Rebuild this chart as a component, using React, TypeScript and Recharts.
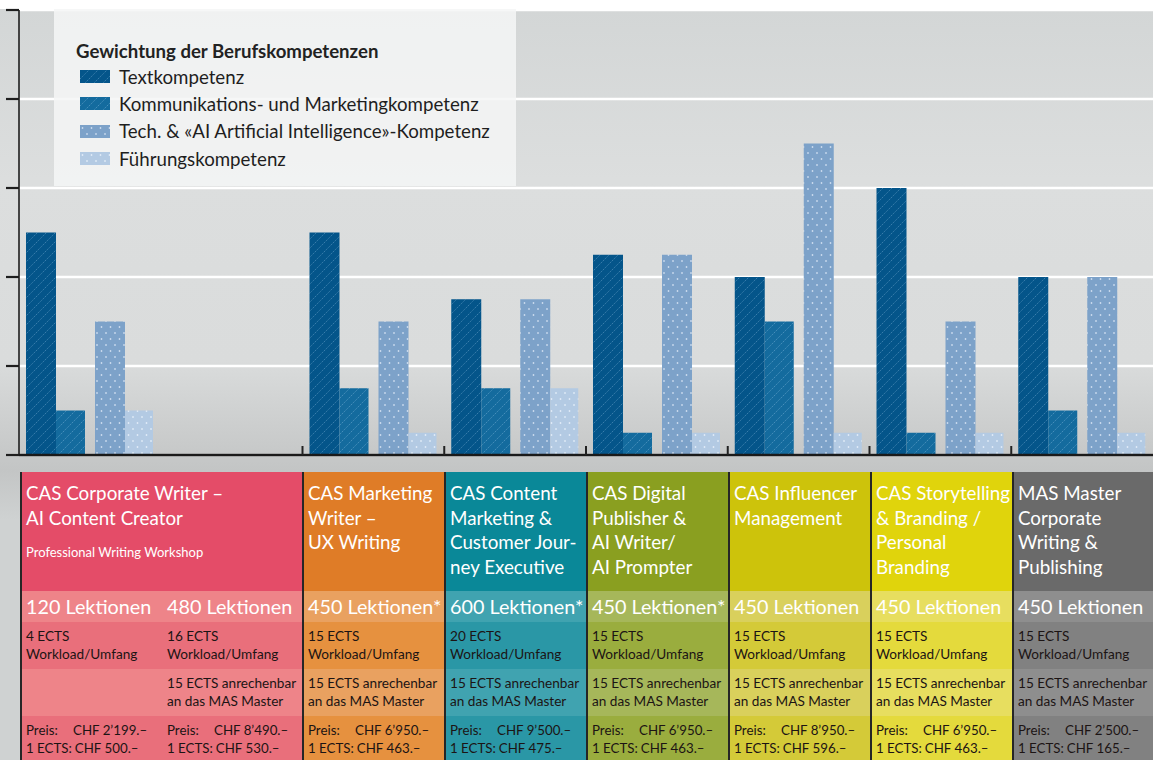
import { Bar, BarChart, CartesianGrid, Legend, XAxis, YAxis } from "recharts";

// chart categories: the first course takes two table columns, its right half has no bars
const programs = [
  "CAS Corporate Writer – AI Content Creator",
  "CAS Corporate Writer (480 Lektionen)",
  "CAS Marketing Writer – UX Writing",
  "CAS Content Marketing & Customer Journey Executive",
  "CAS Digital Publisher & AI Writer/AI Prompter",
  "CAS Influencer Management",
  "CAS Storytelling & Branding / Personal Branding",
  "MAS Master Corporate Writing & Publishing",
];
const textkompetenz = [2.5, null, 2.5, 1.75, 2.25, 2, 3, 2];
const kommunikation = [0.5, null, 0.75, 0.75, 0.25, 1.5, 0.25, 0.5];
const technik = [1.5, null, 1.5, 1.75, 2.25, 3.5, 1.5, 2];
const fuehrung = [0.5, null, 0.25, 0.75, 0.25, 0.25, 0.25, 0.25];
const yTicks = [0, 1, 2, 3, 4, 5];

// table below the chart
const titles = [
  ["CAS Corporate Writer –", "AI Content Creator"],
  ["CAS Marketing", "Writer –", "UX Writing"],
  ["CAS Content", "Marketing &", "Customer Jour-", "ney Executive"],
  ["CAS Digital", "Publisher &", "AI Writer/", "AI Prompter"],
  ["CAS Influencer", "Management"],
  ["CAS Storytelling", "& Branding /", "Personal", "Branding"],
  ["MAS Master", "Corporate", "Writing &", "Publishing"],
];
const lektionen = ["120 Lektionen", "480 Lektionen", "450 Lektionen*", "600 Lektionen*", "450 Lektionen*", "450 Lektionen", "450 Lektionen", "450 Lektionen"];
const ects = [4, 16, 15, 20, 15, 15, 15, 15];
const anrechenbar = [null, 15, 15, 15, 15, 15, 15, 15];
const preis = ["2’199", "8’490", "6’950", "9’500", "6’950", "8’950", "6’950", "2’500"];
const preisProEcts = ["500", "530", "463", "475", "463", "596", "463", "165"];

const FONT = "Lato, 'Open Sans', sans-serif";
const W = 1153;
const CHART_H = 470;
const X_AXIS_H = 15;
const PLOT_LEFT = 19;
const PLOT_BOTTOM = CHART_H - X_AXIS_H;
const BAND = (W - PLOT_LEFT) / programs.length;

const HEADER_COLORS = ["#e44c68", "#df7c27", "#0a8898", "#8a9f20", "#cdc30b", "#e0d40c", "#6a6a6a"];
const LIGHT_COLORS = ["#ee8489", "#e9a160", "#40a3b0", "#a6b75a", "#d9d05c", "#e7de5f", "#8e8e8e"];
const MID_COLORS = ["#e96f7b", "#e6913f", "#2a97a6", "#9aad3e", "#d4ca38", "#e4da3c", "#818181"];
const SUB_COL = [0, 0, 1, 2, 3, 4, 5, 6];
const SUB_W = [141, 141, 142, 142, 142, 142, 142, 141];
const HEAD_W = [282, 142, 142, 142, 142, 142, 141];

const SERIES = [
  { key: "text", name: "Textkompetenz", fill: "url(#pText)" },
  { key: "komm", name: "Kommunikations- und Marketingkompetenz", fill: "url(#pKomm)" },
  { key: "tech", name: "Tech. & «AI Artificial Intelligence»-Kompetenz", fill: "url(#pTech)" },
  { key: "fuehrung", name: "Führungskompetenz", fill: "url(#pFuehr)" },
];

const data = programs.map((name, i) => ({
  name,
  text: textkompetenz[i],
  komm: kommunikation[i],
  tech: technik[i],
  fuehrung: fuehrung[i],
}));

function BoundaryTick(props: any) {
  const index = props.index ?? props.payload?.index;
  if (index === 0 || index === 1) return null;
  const x = props.x - BAND / 2;
  return <line x1={x} x2={x} y1={PLOT_BOTTOM - 9} y2={PLOT_BOTTOM} stroke="#222" strokeWidth={2} />;
}

function LegendBox() {
  return (
    <div
      style={{
        width: 462,
        height: 177,
        background: "rgba(245,246,246,0.86)",
        fontFamily: FONT,
        color: "#222",
        boxSizing: "border-box",
        padding: "30px 0 0 22px",
      }}
    >
      <div style={{ fontWeight: 700, fontSize: 18.6, lineHeight: "24px", marginBottom: 0 }}>
        Gewichtung der Berufskompetenzen
      </div>
      {SERIES.map((s) => (
        <div key={s.key} style={{ display: "flex", alignItems: "center", height: 27.3 }}>
          <svg width={30} height={13} style={{ marginLeft: 4, marginRight: 9 }}>
            <rect width={30} height={13} fill={s.fill} />
          </svg>
          <span style={{ fontSize: 18.7, color: "#1e1e1e" }}>{s.name}</span>
        </div>
      ))}
    </div>
  );
}

function Patterns() {
  const stripes = "M-1,1 l2,-2 M0,9 l9,-9 M8,10 l2,-2";
  return (
    <defs>
      <pattern id="pText" width={9} height={9} patternUnits="userSpaceOnUse">
        <rect width={9} height={9} fill="#04558a" />
        <path d={stripes} stroke="rgba(150,195,230,0.45)" strokeWidth={0.8} strokeDasharray="1.5 1" />
      </pattern>
      <pattern id="pKomm" width={9} height={9} patternUnits="userSpaceOnUse">
        <rect width={9} height={9} fill="#146b9e" />
        <path d={stripes} stroke="rgba(160,205,235,0.45)" strokeWidth={0.8} strokeDasharray="1.5 1" />
      </pattern>
      <pattern id="pTech" width={9} height={12} patternUnits="userSpaceOnUse">
        <rect width={9} height={12} fill="#7da2c9" />
        <path d="M1.5,3 h2 M2.5,2 v2 M6,9 h2 M7,8 v2" stroke="rgba(225,235,248,0.75)" strokeWidth={0.8} />
      </pattern>
      <pattern id="pFuehr" width={9} height={12} patternUnits="userSpaceOnUse">
        <rect width={9} height={12} fill="#b3cae3" />
        <path d="M1.5,3 h2 M2.5,2 v2 M6,9 h2 M7,8 v2" stroke="rgba(235,242,252,0.8)" strokeWidth={0.8} />
      </pattern>
    </defs>
  );
}

const cellText = { fontSize: 13.6, lineHeight: "17.5px", color: "#1c1414" };
const priceLabel = { display: "inline-block", minWidth: 47, paddingRight: 3, boxSizing: "border-box" as const };

function Table() {
  const sep = "2px solid #262626";
  const rowCells = (
    height: number,
    colors: string[],
    render: (i: number) => any,
    style: any = cellText,
    padTop = 6
  ) => (
    <div style={{ display: "flex", height }}>
      {SUB_W.map((w, i) => (
        <div
          key={i}
          style={{
            width: w,
            height,
            boxSizing: "border-box",
            background: colors[SUB_COL[i]],
            borderLeft: i === 1 ? "none" : sep,
            paddingLeft: i === 1 ? 6 : 4,
            paddingTop: padTop,
            whiteSpace: "nowrap",
            overflow: "hidden",
            ...style,
          }}
        >
          {render(i)}
        </div>
      ))}
    </div>
  );
  return (
    <div style={{ position: "absolute", left: 20, top: 472, width: 1133, fontFamily: FONT }}>
      <div style={{ display: "flex", height: 119 }}>
        {titles.map((lines, i) => (
          <div
            key={i}
            style={{
              width: HEAD_W[i],
              height: 119,
              boxSizing: "border-box",
              background: HEADER_COLORS[i],
              borderLeft: sep,
              padding: "9px 0 0 4px",
              color: "#fff",
              fontSize: 18.8,
              lineHeight: "24.5px",
              whiteSpace: "nowrap",
              overflow: "hidden",
            }}
          >
            {lines.map((l) => (
              <div key={l}>{l}</div>
            ))}
            {i === 0 && <div style={{ fontSize: 13, lineHeight: "16px", marginTop: 14 }}>Professional Writing Workshop</div>}
          </div>
        ))}
      </div>
      {rowCells(31, LIGHT_COLORS, (i) => lektionen[i], { fontSize: 19.8, lineHeight: "31px", color: "#fff" }, 0)}
      {rowCells(47, MID_COLORS, (i) => (
        <>
          <div>{ects[i]} ECTS</div>
          <div>Workload/Umfang</div>
        </>
      ))}
      {rowCells(47, LIGHT_COLORS, (i) =>
        anrechenbar[i] == null ? null : (
          <>
            <div>{anrechenbar[i]} ECTS anrechenbar</div>
            <div>an das MAS Master</div>
          </>
        )
      )}
      {rowCells(44, MID_COLORS, (i) => (
        <>
          <div>
            <span style={priceLabel}>Preis:</span>CHF {preis[i]}.–
          </div>
          <div>
            <span style={priceLabel}>1 ECTS:</span>CHF {preisProEcts[i]}.–
          </div>
        </>
      ), { ...cellText, fontSize: 13.3 })}
    </div>
  );
}

export default function App() {
  return (
    <div
      style={{
        position: "absolute",
        left: 0,
        top: 0,
        width: W,
        height: 760,
        overflow: "hidden",
        background:
          "linear-gradient(to bottom, #ffffff 0px, #ffffff 9px, #d3d6d6 9px, #dcdede 180px, #dadcdc 360px, #c3c5c5 470px, #cfd2d2 520px)",
      }}
    >
      <BarChart
        width={W}
        height={CHART_H}
        data={data}
        margin={{ top: 10, right: 0, bottom: 0, left: 0 }}
        barGap={0}
      >
        <Patterns />
        <CartesianGrid horizontal vertical={false} stroke="#ffffff" strokeWidth={2.5} />
        <YAxis
          domain={[0, 5]}
          ticks={yTicks}
          width={PLOT_LEFT}
          tickFormatter={() => ""}
          tickSize={13}
          tickLine={{ stroke: "#1e1e1e", strokeWidth: 2.2 }}
          axisLine={{ stroke: "#1e1e1e", strokeWidth: 1.6 }}
        />
        <XAxis
          dataKey="name"
          height={X_AXIS_H}
          interval={0}
          tickLine={false}
          tickFormatter={() => ""}
          tick={<BoundaryTick />}
          axisLine={{ stroke: "#1a1a1a", strokeWidth: 2.5 }}
        />
        <Legend
          layout="vertical"
          align="center"
          verticalAlign="middle"
          wrapperStyle={{ left: 54, top: 9, width: 462, height: 177 }}
          content={() => <LegendBox />}
        />
        <Bar dataKey="text" name={SERIES[0].name} fill={SERIES[0].fill} barSize={30} isAnimationActive={false} />
        <Bar dataKey="komm" name={SERIES[1].name} fill={SERIES[1].fill} barSize={29} isAnimationActive={false} />
        <Bar dataKey="spacer" legendType="none" fill="none" barSize={10} isAnimationActive={false} />
        <Bar dataKey="tech" name={SERIES[2].name} fill={SERIES[2].fill} barSize={30} isAnimationActive={false} />
        <Bar dataKey="fuehrung" name={SERIES[3].name} fill={SERIES[3].fill} barSize={28} isAnimationActive={false} />
      </BarChart>
      <Table />
    </div>
  );
}
